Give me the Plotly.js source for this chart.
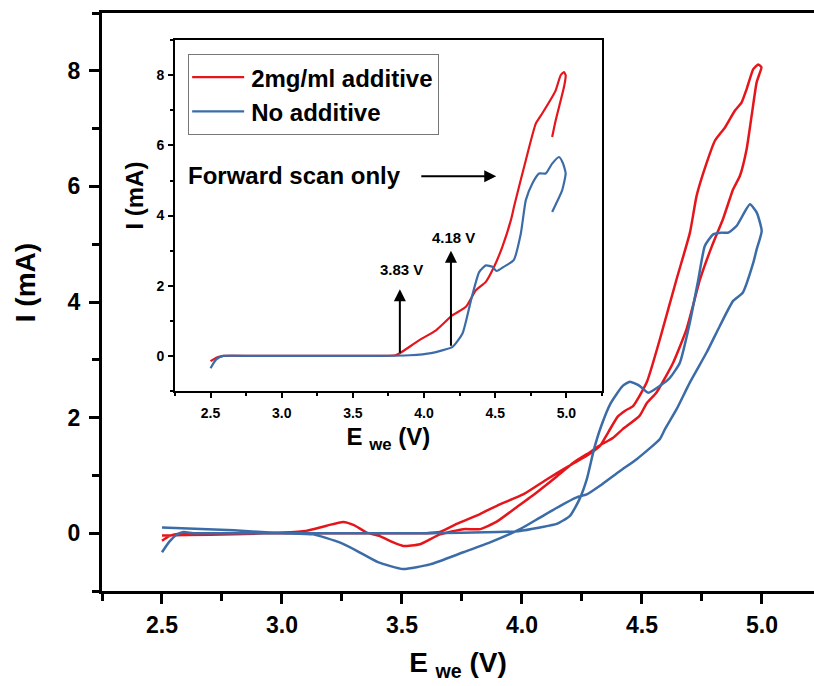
<!DOCTYPE html>
<html>
<head>
<meta charset="utf-8">
<script src="https://cdn.plot.ly/plotly-3.0.1.min.js"></script>
<style>html,body{margin:0;padding:0;background:#fff;}#chart{width:814px;height:686px;}</style>
</head>
<body>
<div id="chart"></div>
<script>
// Main CV, 2mg/ml additive (full loop)
const redX = [2.50,2.53,2.57,2.62,2.8,3.0,3.2,3.4,3.6,3.658,3.728,3.825,3.908,4.005,4.103,4.186,4.27,4.325,4.36,4.40,4.43,4.463,4.52,4.575,4.644,4.70,4.728,4.77,4.804,4.846,4.887,4.915,4.936,4.964,4.985,4.998,4.99,4.978,4.957,4.936,4.908,4.88,4.839,4.79,4.742,4.686,4.63,4.56,4.52,4.49,4.42,4.38,4.325,4.283,4.214,4.145,4.06,3.978,3.895,3.825,3.756,3.658,3.575,3.505,3.464,3.408,3.353,3.30,3.255,3.186,3.10,3.0,2.8,2.6,2.5];
const redY = [-0.13,-0.05,-0.01,0,0,0,0,0,0,0.02,0.16,0.33,0.50,0.67,0.93,1.14,1.34,1.51,1.75,2.02,2.12,2.20,2.61,3.36,4.39,5.2,5.84,6.41,6.79,7.02,7.31,7.45,7.68,8.03,8.11,8.06,7.95,7.80,7.22,6.64,6.18,5.95,5.45,4.95,4.39,3.53,2.95,2.43,2.25,2.03,1.80,1.65,1.52,1.40,1.22,0.98,0.70,0.45,0.20,0.07,0.07,-0.02,-0.19,-0.22,-0.16,-0.05,0.01,0.14,0.195,0.13,0.04,0.01,-0.02,-0.03,-0.04];
// Main CV, no additive (full loop)
const blueX = [2.50,2.53,2.56,2.59,2.63,2.8,3.0,3.3,3.6,3.9,3.992,4.075,4.145,4.20,4.24,4.27,4.30,4.33,4.37,4.42,4.45,4.49,4.526,4.575,4.617,4.658,4.70,4.735,4.762,4.797,4.83,4.86,4.895,4.95,4.978,4.999,4.978,4.964,4.92,4.88,4.825,4.77,4.70,4.645,4.596,4.575,4.478,4.41,4.325,4.27,4.228,4.158,4.075,3.992,3.867,3.756,3.617,3.505,3.40,3.31,3.24,3.13,3.0,2.8,2.5];
const blueY = [-0.33,-0.15,-0.03,0.02,0,0,0,0,0,0.02,0.04,0.10,0.16,0.30,0.59,0.93,1.45,1.85,2.25,2.55,2.62,2.55,2.43,2.55,2.69,2.95,3.65,4.39,4.97,5.17,5.20,5.20,5.32,5.69,5.55,5.23,4.91,4.68,4.16,4.02,3.59,3.13,2.61,2.15,1.80,1.63,1.28,1.08,0.82,0.67,0.62,0.47,0.27,0.07,-0.16,-0.33,-0.54,-0.62,-0.50,-0.30,-0.16,-0.02,0.0,0.05,0.10];
// Inset: forward scan only
const insRedX = [2.50,2.54,2.59,2.8,3.2,3.6,3.8,3.827,3.967,4.084,4.20,4.294,4.364,4.434,4.492,4.55,4.61,4.635,4.715,4.785,4.83,4.90,4.925,4.96,4.983,4.995,4.985,4.96,4.925,4.90];
const insRedY = [-0.15,-0.05,0,0,0,0,0.02,0.07,0.45,0.73,1.16,1.40,1.87,2.11,2.54,3.11,3.87,4.3,5.58,6.62,6.91,7.38,7.57,8.0,8.09,8.0,7.7,7.28,6.72,6.24];
const insBlueX = [2.50,2.54,2.59,2.8,3.2,3.6,3.9,4.05,4.20,4.27,4.33,4.387,4.434,4.48,4.51,4.56,4.63,4.68,4.715,4.76,4.808,4.855,4.90,4.948,4.975,4.995,4.97,4.935,4.90];
const insBlueY = [-0.35,-0.1,0,0,0,0,0.02,0.08,0.26,0.64,1.59,2.39,2.58,2.54,2.42,2.54,2.73,3.49,4.44,4.91,5.2,5.2,5.48,5.67,5.5,5.2,4.72,4.4,4.10];
const seriesNames = ["2mg/ml additive", "No additive"];
const onsetV = [3.83, 4.18];
const onsetLabels = ["3.83 V", "4.18 V"];

const RED = "#e5161b", BLUE = "#3b6ca8";
const FAM = "Liberation Sans, Arial, sans-serif";
const bold = (s, c) => ({family: FAM, size: s, color: c || "#000", weight: "bold"});
const NB = n => "&nbsp;".repeat(n);

const traces = [
  {x: redX, y: redY, mode: "lines", line: {color: RED, width: 2.5, shape: "spline", smoothing: 0.5}, showlegend: false, xaxis: "x", yaxis: "y"},
  {x: blueX, y: blueY, mode: "lines", line: {color: BLUE, width: 2.5, shape: "spline", smoothing: 0.5}, showlegend: false, xaxis: "x", yaxis: "y"},
  {x: insRedX, y: insRedY, name: seriesNames[0], mode: "lines", line: {color: RED, width: 2.2, shape: "spline", smoothing: 0.5}, xaxis: "x2", yaxis: "y2"},
  {x: insBlueX, y: insBlueY, name: seriesNames[1], mode: "lines", line: {color: BLUE, width: 2.2, shape: "spline", smoothing: 0.5}, xaxis: "x2", yaxis: "y2"}
];

const layout = {
  width: 814, height: 686,
  margin: {l: 102, r: 0, t: 13, b: 95},
  paper_bgcolor: "#fff", plot_bgcolor: "#fff",
  showlegend: true,
  legend: {x: 0.121, y: 0.929, xanchor: "left", yanchor: "top", bgcolor: "#fff", bordercolor: "#777", borderwidth: 1, font: bold(24), tracegroupgap: 0, itemwidth: 52},
  xaxis: {
    range: [2.25, 5.217], tick0: 2.5, dtick: 0.5, tickformat: ".1f",
    showline: true, linewidth: 3, linecolor: "#000", mirror: true,
    ticks: "outside", ticklen: 10, tickwidth: 3, tickcolor: "#000",
    minor: {tick0: 2.25, dtick: 0.25, ticks: "outside", ticklen: 7, tickwidth: 3, tickcolor: "#000"},
    showgrid: false, zeroline: false, tickfont: bold(23), ticklabelstandoff: 1,
    title: {text: "E <sub>we</sub> (V)", font: bold(28), standoff: 16}
  },
  yaxis: {
    range: [-1, 9], tick0: 0, dtick: 2,
    showline: true, linewidth: 3, linecolor: "#000", mirror: false,
    ticks: "outside", ticklen: 10, tickwidth: 3, tickcolor: "#000",
    minor: {tick0: 1, dtick: 1, ticks: "outside", ticklen: 7, tickwidth: 3, tickcolor: "#000"},
    showgrid: false, zeroline: false, tickfont: bold(23), ticklabelstandoff: 4,
    title: {text: NB(5) + "I (mA)", font: bold(28), standoff: 24}
  },
  xaxis2: {
    domain: [0.1025, 0.7022], anchor: "y2",
    range: [2.25, 5.25], tick0: 2.5, dtick: 0.5, tickformat: ".1f",
    showline: true, linewidth: 2, linecolor: "#000", mirror: true,
    ticks: "outside", ticklen: 5, tickwidth: 2, tickcolor: "#000",
    minor: {tick0: 2.25, dtick: 0.25, ticks: "outside", ticklen: 3, tickwidth: 2, tickcolor: "#000"},
    showgrid: false, zeroline: false, tickfont: bold(14), ticklabelstandoff: 3,
    title: {text: "E <sub>we</sub> (V)", font: bold(24), standoff: 8}
  },
  yaxis2: {
    domain: [0.346, 0.953], anchor: "x2",
    range: [-1, 9], tick0: 0, dtick: 2,
    showline: true, linewidth: 2, linecolor: "#000", mirror: true,
    ticks: "outside", ticklen: 5, tickwidth: 2, tickcolor: "#000",
    minor: {tick0: 1, dtick: 1, ticks: "outside", ticklen: 3, tickwidth: 2, tickcolor: "#000"},
    showgrid: false, zeroline: false, tickfont: bold(14), ticklabelstandoff: 1,
    title: {text: NB(6) + "I (mA)", font: bold(24), standoff: 6}
  },
  annotations: [
    {xref: "x2", yref: "y2", x: 2.33, y: 5.15, xanchor: "left", yanchor: "middle", text: "Forward scan only", showarrow: false, font: bold(24)},
    {xref: "x2", yref: "y2", x: 4.507, y: 5.12, axref: "x2", ayref: "y2", ax: 3.97, ay: 5.12, text: "", showarrow: true, arrowhead: 2, arrowsize: 1.2, arrowwidth: 2, arrowcolor: "#000"},
    {xref: "x2", yref: "y2", x: onsetV[0], y: 1.9, axref: "x2", ayref: "y2", ax: onsetV[0], ay: 0.05, text: "", showarrow: true, arrowhead: 2, arrowsize: 1.2, arrowwidth: 2, arrowcolor: "#000"},
    {xref: "x2", yref: "y2", x: 4.189, y: 3.0, axref: "x2", ayref: "y2", ax: 4.189, ay: 0.25, text: "", showarrow: true, arrowhead: 2, arrowsize: 1.2, arrowwidth: 2, arrowcolor: "#000"},
    {xref: "x2", yref: "y2", x: 3.84, y: 2.45, text: onsetLabels[0], showarrow: false, font: bold(15)},
    {xref: "x2", yref: "y2", x: 4.21, y: 3.38, text: onsetLabels[1], showarrow: false, font: bold(15)}
  ]
};

Plotly.newPlot("chart", traces, layout, {displayModeBar: false, staticPlot: true}).then(function (gd) {
  // lengthen the legend line samples to match the original figure
  gd.querySelectorAll(".legend .legendlines path").forEach(function (p) {
    p.setAttribute("d", "M3,0h52");
  });
});
</script>
</body>
</html>
